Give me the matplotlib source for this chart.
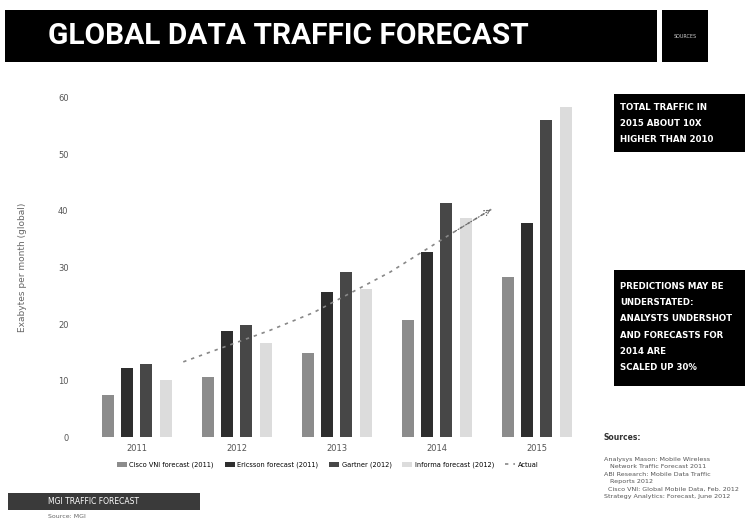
import matplotlib
matplotlib.use("Agg")
import matplotlib.pyplot as plt
from matplotlib.patches import Rectangle
import numpy as np

# ---- data ----
years = ["2011", "2012", "2013", "2014", "2015"]
series_names = ["Cisco VNI forecast (2011)", "Ericsson forecast (2011)",
                "Gartner (2012)", "Informa forecast (2012)", "Actual"]
cisco = [7.4, 10.6, 14.9, 20.7, 28.3]
ericsson = [12.2, 18.8, 25.7, 32.7, 37.9]
gartner = [12.9, 19.8, 29.2, 41.4, 56.1]
informa = [10.1, 16.6, 26.2, 38.8, 58.4]
actual_pos = [0.46, 1.33, 1.76, 2.53, 3.16, 3.56]
actual_vals = [13.3, 18.9, 22.0, 29.2, 36.2, 40.5]
yticks = [0, 10, 20, 30, 40, 50, 60]

fig = plt.figure(figsize=(7.48, 5.24), dpi=100)
fig.patch.set_facecolor("white")

ax = fig.add_axes([0.114, 0.166, 0.675, 0.647])
x = np.arange(len(years))
w = 0.12
offs = [-0.29, -0.10, 0.09, 0.29]
cols = ["#8c8c8c", "#2e2e2e", "#474747", "#dcdcdc"]
handles = []
for o, vals, c, n in zip(offs, [cisco, ericsson, gartner, informa], cols, series_names[:4]):
    handles.append(ax.bar(x + o, vals, width=w, color=c, label=n, edgecolor="none"))
line, = ax.plot(actual_pos, actual_vals, linestyle=(0, (2, 3)), color="#888888", lw=1.2,
                label=series_names[4])
handles.append(line)
ax.annotate("", xy=(actual_pos[-1], actual_vals[-1]), xytext=(actual_pos[-2], actual_vals[-2]),
            arrowprops=dict(arrowstyle="->", color="#666666", lw=0.8, linestyle=":"))
ax.set_xlim(-0.52, 4.53)
ax.set_ylim(0, 60)
ax.set_yticks(yticks)
ax.set_yticklabels([str(t) for t in yticks], fontsize=6, color="#555555")
ax.set_xticks(x)
ax.set_xticklabels(years, fontsize=6, color="#555555")
ax.tick_params(length=0, pad=12)
ax.tick_params(axis="x", pad=5)
for s in ax.spines.values():
    s.set_visible(False)
ax.set_ylabel("Exabytes per month (global)", fontsize=6.5, color="#666666", labelpad=22)
ax.legend(handles=handles, labels=series_names, loc="upper center", bbox_to_anchor=(0.48, -0.055),
          ncol=5, fontsize=4.8, frameon=False, handlelength=1.5, columnspacing=1.6, handletextpad=0.4)

# ---- title banner ----
fig.patches.append(Rectangle((5 / 748, 1 - 62 / 524), 652 / 748, 52 / 524, transform=fig.transFigure,
                             facecolor="black", edgecolor="none"))
fig.text(48 / 748, 1 - 36 / 524, "GLOBAL DATA TRAFFIC FORECAST", color="white", fontsize=21.5,
         fontweight="bold", va="center", ha="left", family="Roboto")
fig.patches.append(Rectangle((662 / 748, 1 - 62 / 524), 46 / 748, 52 / 524, transform=fig.transFigure,
                             facecolor="black", edgecolor="none"))
fig.text(685 / 748, 1 - 36 / 524, "SOURCES", color="#cccccc", fontsize=3.5, va="center", ha="center")

# ---- right call-out boxes ----
fig.patches.append(Rectangle((614 / 748, 1 - 152 / 524), 131 / 748, 58 / 524, transform=fig.transFigure,
                             facecolor="black", edgecolor="none"))
fig.text(620 / 748, 1 - 123 / 524, "TOTAL TRAFFIC IN\n2015 ABOUT 10X\nHIGHER THAN 2010", color="white",
         fontsize=6.2, fontweight="bold", va="center", ha="left", linespacing=2.0)
fig.patches.append(Rectangle((614 / 748, 1 - 386 / 524), 131 / 748, 116 / 524, transform=fig.transFigure,
                             facecolor="black", edgecolor="none"))
fig.text(620 / 748, 1 - 327 / 524,
         "PREDICTIONS MAY BE\nUNDERSTATED:\nANALYSTS UNDERSHOT\nAND FORECASTS FOR\n2014 ARE\nSCALED UP 30%",
         color="white", fontsize=6.2, fontweight="bold", va="center", ha="left", linespacing=2.05)

# ---- sources ----
fig.text(604 / 748, 1 - 437 / 524, "Sources:", fontsize=5.5, fontweight="bold", color="#333333",
         va="center", ha="left")
fig.text(604 / 748, 1 - 478 / 524,
         "Analysys Mason: Mobile Wireless\n   Network Traffic Forecast 2011\n"
         "ABI Research: Mobile Data Traffic\n   Reports 2012\n"
         "  Cisco VNI: Global Mobile Data, Feb. 2012\n"
         "Strategy Analytics: Forecast, June 2012",
         fontsize=4.6, color="#555555", va="center", ha="left", linespacing=1.6)

# ---- bottom-left label ----
fig.patches.append(Rectangle((8 / 748, 1 - 510 / 524), 192 / 748, 17 / 524, transform=fig.transFigure,
                             facecolor="#3a3a3a", edgecolor="none"))
fig.text(48 / 748, 1 - 501.5 / 524, "MGI TRAFFIC FORECAST", color="white", fontsize=5.5,
         va="center", ha="left")
fig.text(48 / 748, 1 - 516 / 524, "Source: MGI", color="#666666", fontsize=4.5, va="center", ha="left")

fig.savefig("out.png", dpi=100)
